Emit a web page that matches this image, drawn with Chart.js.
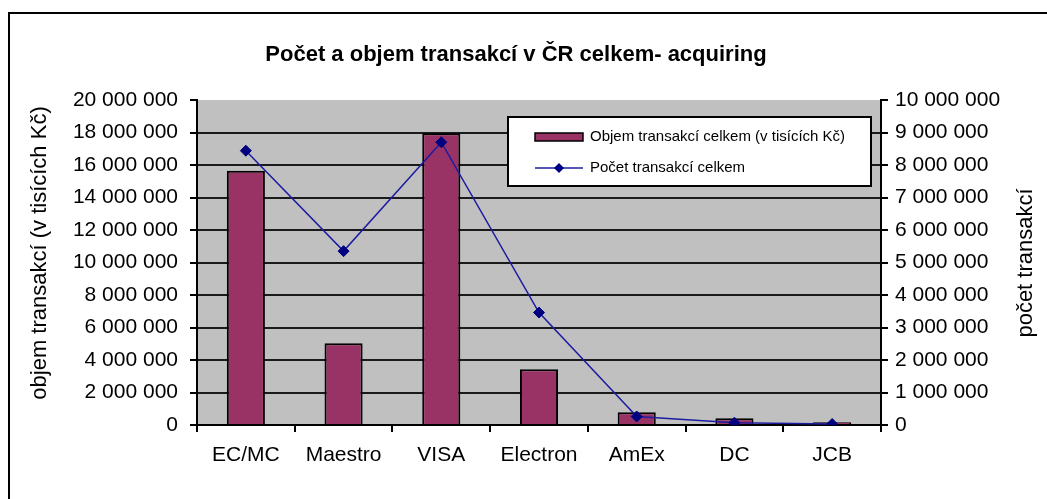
<!DOCTYPE html>
<html>
<head>
<meta charset="utf-8">
<script src="https://cdn.jsdelivr.net/npm/chart.js@4.4.1/dist/chart.umd.min.js"></script>
<style>
  html, body { margin: 0; padding: 0; background: #fff; }
  canvas { display: block; }
</style>
</head>
<body>
<canvas id="c" width="1047" height="499"></canvas>
<script>
const categories = ['EC/MC', 'Maestro', 'VISA', 'Electron', 'AmEx', 'DC', 'JCB'];
const volumeLabel = 'Objem transakcí celkem (v tisících Kč)';
const countLabel = 'Počet transakcí celkem';
const volumeValues = [15650000, 5030000, 17950000, 3430000, 780000, 410000, 170000];
const countValues = [8440000, 5350000, 8700000, 3460000, 260000, 70000, 30000];
const titleText = 'Počet a objem transakcí v ČR celkem- acquiring';
const leftAxisTitle = 'objem transakcí (v tisících Kč)';
const rightAxisTitle = 'počet transakcí';

const FONT = "'Liberation Sans', Arial, sans-serif";
const fmt = v => String(v).replace(/\B(?=(\d{3})+(?!\d))/g, ' ');

const decor = {
  id: 'decor',
  beforeDraw(chart) {
    const ctx = chart.ctx;
    const a = chart.chartArea;
    ctx.save();
    ctx.fillStyle = '#fff';
    ctx.fillRect(0, 0, chart.width, chart.height);
    ctx.fillStyle = '#000';
    ctx.fillRect(8, 12, chart.width, 2);
    ctx.fillRect(8, 12, 2, chart.height);
    ctx.fillStyle = '#C0C0C0';
    ctx.fillRect(a.left, a.top, a.right - a.left, a.bottom - a.top);
    ctx.restore();
  },
  afterDraw(chart) {
    const ctx = chart.ctx;
    ctx.save();
    // title
    ctx.fillStyle = '#000';
    ctx.font = 'bold 22px ' + FONT;
    ctx.textAlign = 'center';
    ctx.textBaseline = 'middle';
    ctx.fillText(titleText, 516, 55);
    // axis titles
    ctx.font = '22px ' + FONT;
    ctx.save();
    ctx.translate(40, 253);
    ctx.rotate(-Math.PI / 2);
    ctx.fillText(leftAxisTitle, 0, 0);
    ctx.restore();
    ctx.save();
    ctx.translate(1026, 263);
    ctx.rotate(-Math.PI / 2);
    ctx.fillText(rightAxisTitle, 0, 0);
    ctx.restore();
    // legend
    const L = 508, T = 117, R = 871, B = 186;
    ctx.fillStyle = '#fff';
    ctx.fillRect(L, T, R - L, B - T);
    ctx.strokeStyle = '#000';
    ctx.lineWidth = 2;
    ctx.strokeRect(L, T, R - L, B - T);
    const bar = chart.data.datasets[1];
    const line = chart.data.datasets[0];
    ctx.fillStyle = bar.backgroundColor;
    ctx.fillRect(535, 133, 48, 8);
    ctx.lineWidth = 1.5;
    ctx.strokeRect(535, 133, 48, 8);
    ctx.strokeStyle = line.borderColor;
    ctx.lineWidth = 1.5;
    ctx.beginPath();
    ctx.moveTo(535, 168);
    ctx.lineTo(583, 168);
    ctx.stroke();
    ctx.fillStyle = line.pointBackgroundColor;
    ctx.beginPath();
    ctx.moveTo(559, 163); ctx.lineTo(564, 168); ctx.lineTo(559, 173); ctx.lineTo(554, 168);
    ctx.closePath();
    ctx.fill();
    ctx.fillStyle = '#000';
    ctx.font = '15px ' + FONT;
    ctx.textAlign = 'left';
    ctx.fillText(bar.label, 590, 137);
    ctx.fillText(line.label, 590, 168);
    ctx.restore();
  }
};

const tickFont = { family: FONT, size: 21 };

new Chart(document.getElementById('c'), {
  data: {
    labels: categories,
    datasets: [
      {
        type: 'line',
        label: countLabel,
        data: countValues,
        yAxisID: 'y1',
        order: 0,
        borderColor: '#1c1ca0',
        backgroundColor: '#000080',
        borderWidth: 1.5,
        tension: 0,
        pointStyle: 'rectRot',
        pointRadius: 5.5,
        pointBackgroundColor: '#000080',
        pointBorderColor: '#000080',
        pointBorderWidth: 1
      },
      {
        type: 'bar',
        label: volumeLabel,
        data: volumeValues,
        yAxisID: 'y',
        order: 1,
        backgroundColor: '#993366',
        borderColor: '#000',
        borderWidth: 2,
        barPercentage: 0.39,
        categoryPercentage: 1
      }
    ]
  },
  options: {
    responsive: false,
    devicePixelRatio: 1,
    animation: false,
    layout: { padding: { top: 100, left: 0, right: 0, bottom: 0 } },
    plugins: { legend: { display: false }, title: { display: false }, tooltip: { enabled: false } },
    scales: {
      x: {
        type: 'category',
        offset: true,
        afterFit(s) { s.height = 74; },
        grid: { offset: true, drawOnChartArea: false, drawTicks: true, tickLength: 7, color: '#000', lineWidth: 2 },
        border: { color: '#000', width: 2 },
        ticks: { font: tickFont, color: '#000', padding: 11, maxRotation: 0, autoSkip: false }
      },
      y: {
        position: 'left',
        min: 0, max: 20000000,
        afterFit(s) { s.width = 197; },
        grid: {
          color: ctx => (ctx.tick && ctx.tick.value === 20000000) ? 'rgba(0,0,0,0)' : '#1a1a1a',
          tickColor: '#000', lineWidth: 2, tickLength: 7
        },
        border: { color: '#000', width: 2 },
        ticks: { stepSize: 2000000, font: tickFont, color: '#000', padding: 12, callback: v => fmt(v) }
      },
      y1: {
        position: 'right',
        min: 0, max: 10000000,
        afterFit(s) { s.width = 166; },
        grid: { drawOnChartArea: false, color: '#000', lineWidth: 2, tickLength: 7 },
        border: { color: '#000', width: 2 },
        ticks: { stepSize: 1000000, font: tickFont, color: '#000', padding: 7, callback: v => fmt(v) }
      }
    }
  },
  plugins: [decor]
});
</script>
</body>
</html>
